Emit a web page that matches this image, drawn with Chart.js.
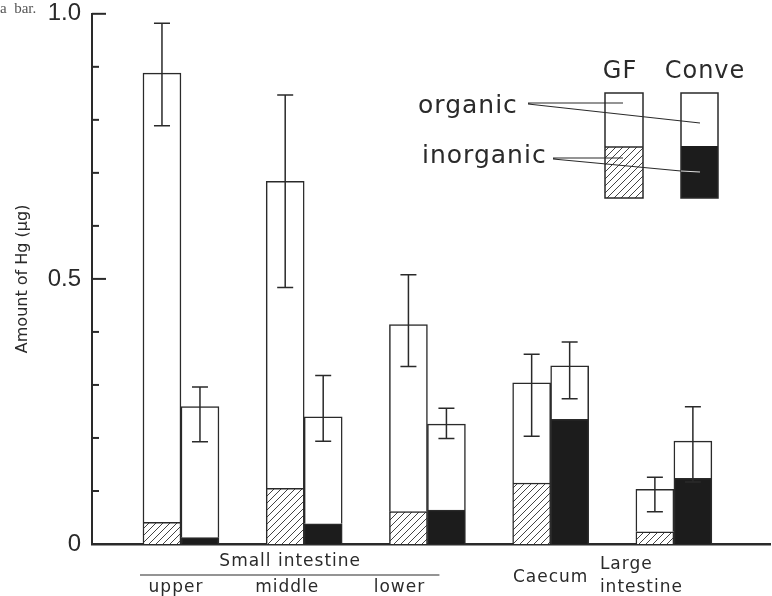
<!DOCTYPE html>
<html>
<head>
<meta charset="utf-8">
<script src="https://cdn.jsdelivr.net/npm/chart.js@4.4.1/dist/chart.umd.min.js"></script>
<style>
    html, body { margin: 0; padding: 0; background: #fff; }
    #wrap { width: 772px; height: 596px; }
</style>
</head>
<body>
<div id="wrap"><canvas id="hg-chart" width="772" height="596"></canvas></div>
<script>
(function() {
    'use strict';

    // Gut sections, placed at x = 1..5
    const sections = ['upper', 'middle', 'lower', 'Caecum', ['Large', 'intestine']];
    const groupLabel = 'Small intestine';

    // Germ-free rats (GF), amount of Hg (ug)
    const gfInorganic = [0.041, 0.105, 0.061, 0.115, 0.023];
    const gfOrganic   = [0.847, 0.579, 0.353, 0.189, 0.080];
    const gfErrLow    = [0.789, 0.484, 0.335, 0.203, 0.061];
    const gfErrHigh   = [0.982, 0.847, 0.508, 0.358, 0.126];

    // Conventional rats
    const convInorganic = [0.012, 0.038, 0.064, 0.235, 0.124];
    const convOrganic   = [0.247, 0.202, 0.162, 0.101, 0.070];
    const convErrLow    = [0.193, 0.194, 0.199, 0.274, 0.117];
    const convErrHigh   = [0.296, 0.318, 0.256, 0.381, 0.259];

    // Y axis ticks
    const yTickValues = [0, 0.5, 1.0];
    const yTickLabels = ['0', '0.5', '1.0'];

    const ink = '#2a2a2a';
    const sans = '"DejaVu Sans", sans-serif';

    const ctx = document.getElementById('hg-chart').getContext('2d');

    // Diagonal hatching for the GF inorganic part
    const makeHatch = function() {
        const c = document.createElement('canvas');
        c.width = 7;
        c.height = 7;
        const g = c.getContext('2d');
        g.fillStyle = '#fff';
        g.fillRect(0, 0, 7, 7);
        g.strokeStyle = '#444';
        g.lineWidth = 1;
        g.beginPath();
        g.moveTo(0, 7); g.lineTo(7, 0);
        g.moveTo(-1, 1); g.lineTo(1, -1);
        g.moveTo(6, 8); g.lineTo(8, 6);
        g.stroke();
        return ctx.createPattern(c, 'repeat');
    };
    const hatch = makeHatch();

    const toPoints = function(arr) {
        return arr.map(function(v, i) { return { x: i + 1, y: v }; });
    };

    const barStyle = {
        borderColor: ink,
        borderWidth: 1.5,
        borderSkipped: 'bottom',
        barThickness: 38
    };

    // Inward tick marks on the y axis
    const yTickMarks = {
        id: 'yTickMarks',
        afterDraw: function(chart) {
            const y = chart.scales.y;
            const left = chart.chartArea.left;
            const c = chart.ctx;
            c.save();
            c.strokeStyle = ink;
            c.lineWidth = 2;
            y.ticks.forEach(function(t) {
                if (t.value === 0) {
                    return;
                }
                const major = yTickValues.some(function(v) { return Math.abs(v - t.value) < 1e-6; });
                const py = y.getPixelForValue(t.value);
                c.beginPath();
                c.moveTo(left, py);
                c.lineTo(left + (major ? 14 : 7), py);
                c.stroke();
            });
            c.restore();
        }
    };

    // Error bars on top of each stacked bar
    const errorBars = {
        id: 'errorBars',
        afterDatasetsDraw: function(chart) {
            const y = chart.scales.y;
            const c = chart.ctx;
            const sets = [[1, gfErrLow, gfErrHigh], [3, convErrLow, convErrHigh]];
            c.save();
            c.strokeStyle = ink;
            c.lineWidth = 1.5;
            sets.forEach(function(s) {
                chart.getDatasetMeta(s[0]).data.forEach(function(bar, i) {
                    const x = bar.x;
                    const y1 = y.getPixelForValue(s[1][i]);
                    const y2 = y.getPixelForValue(s[2][i]);
                    c.beginPath();
                    c.moveTo(x, y1); c.lineTo(x, y2);
                    c.moveTo(x - 8, y1); c.lineTo(x + 8, y1);
                    c.moveTo(x - 8, y2); c.lineTo(x + 8, y2);
                    c.stroke();
                });
            });
            c.restore();
        }
    };

    // Section names under the x axis
    const sectionLabels = {
        id: 'sectionLabels',
        afterDraw: function(chart) {
            const x = chart.scales.x;
            const c = chart.ctx;
            const shift = [-5, -17, -28, 0, -74];
            c.save();
            c.fillStyle = ink;
            c.font = '17px ' + sans;
            c.letterSpacing = '1px';
            c.textBaseline = 'middle';

            c.textAlign = 'center';
            c.fillText(groupLabel, x.getPixelForValue(2) - 14, 562);
            c.strokeStyle = ink;
            c.lineWidth = 1.2;
            c.beginPath();
            c.moveTo(x.getPixelForValue(1) - 41, 575);
            c.lineTo(x.getPixelForValue(3) + 12, 575);
            c.stroke();

            sections.forEach(function(lab, i) {
                const px = x.getPixelForValue(i + 1) + shift[i];
                if (Array.isArray(lab)) {
                    c.textAlign = 'left';
                    c.fillText(lab[0], px, 565);
                    c.fillText(lab[1], px, 588);
                } else if (i > 2) {
                    c.textAlign = 'center';
                    c.fillText(lab, px, 578);
                } else {
                    c.textAlign = 'center';
                    c.fillText(lab, px, 588);
                }
            });

            // scrap of caption text from the scanned page
            c.letterSpacing = '0px';
            c.font = '15px "Liberation Serif", serif';
            c.fillStyle = '#555';
            c.textAlign = 'left';
            c.fillText('a  bar.', 0, 9);
            c.restore();
        }
    };

    // Inset key: GF / Conve boxes with leader lines
    const insetKey = {
        id: 'insetKey',
        afterDraw: function(chart) {
            const c = chart.ctx;
            c.save();
            c.fillStyle = ink;
            c.textBaseline = 'middle';
            c.textAlign = 'center';
            c.font = '24px ' + sans;
            c.letterSpacing = '1px';
            c.fillText('GF', 620, 72);
            c.fillText('Conve', 705, 72);

            c.textAlign = 'left';
            c.textBaseline = 'alphabetic';
            c.font = '25px ' + sans;
            c.fillText('organic', 418, 113);
            c.fillText('inorganic', 422, 163);

            c.lineWidth = 1.5;
            c.strokeStyle = ink;
            // GF box
            c.fillStyle = '#fff';
            c.fillRect(605, 93, 38, 54);
            c.fillStyle = hatch;
            c.fillRect(605, 147, 38, 51);
            c.strokeRect(605, 93, 38, 105);
            c.beginPath(); c.moveTo(605, 147); c.lineTo(643, 147); c.stroke();
            // Conve box
            c.fillStyle = '#1c1c1c';
            c.fillRect(681, 146, 37, 52);
            c.strokeRect(681, 93, 37, 105);

            c.lineWidth = 1.2;
            c.beginPath();
            c.moveTo(528, 103); c.lineTo(623, 103);
            c.moveTo(528, 104); c.lineTo(700, 123);
            c.moveTo(553, 158); c.lineTo(623, 158);
            c.moveTo(553, 159); c.lineTo(681, 171);
            c.stroke();
            c.strokeStyle = '#ddd';
            c.beginPath(); c.moveTo(681, 171); c.lineTo(700, 172); c.stroke();
            c.restore();
        }
    };

    new Chart(ctx, {
        type: 'bar',
        data: {
            datasets: [
                Object.assign({ label: 'GF inorganic', data: toPoints(gfInorganic), stack: 'gf', backgroundColor: hatch }, barStyle),
                Object.assign({ label: 'GF organic', data: toPoints(gfOrganic), stack: 'gf', backgroundColor: '#fff' }, barStyle),
                Object.assign({ label: 'Conv inorganic', data: toPoints(convInorganic), stack: 'conv', backgroundColor: '#1c1c1c' }, barStyle),
                Object.assign({ label: 'Conv organic', data: toPoints(convOrganic), stack: 'conv', backgroundColor: '#fff' }, barStyle)
            ]
        },
        options: {
            responsive: false,
            animation: false,
            devicePixelRatio: 1,
            layout: { padding: { top: 1, right: 2, left: 0, bottom: 0 } },
            plugins: {
                legend: { display: false },
                tooltip: { enabled: false }
            },
            scales: {
                x: {
                    type: 'linear',
                    offset: false,
                    min: 0.278,
                    max: 5.78,
                    grid: { display: false, offset: false },
                    border: { display: true, color: ink, width: 2.5 },
                    ticks: { display: false },
                    afterFit: function(scale) { scale.height = 52; }
                },
                y: {
                    stacked: true,
                    min: 0,
                    max: 1.0,
                    grid: { display: false },
                    border: { display: true, color: ink, width: 2 },
                    ticks: {
                        stepSize: 0.1,
                        autoSkip: false,
                        padding: 3,
                        color: ink,
                        font: { size: 24, lineHeight: 0.9, family: '"Liberation Sans", sans-serif' },
                        callback: function(value) {
                            const k = yTickValues.findIndex(function(v) { return Math.abs(v - value) < 1e-6; });
                            return k >= 0 ? yTickLabels[k] : '';
                        }
                    },
                    title: {
                        display: true,
                        text: 'Amount of Hg (\u03bcg)',
                        color: ink,
                        font: { size: 16, family: sans },
                        padding: { top: 13, bottom: 0 }
                    },
                    afterFit: function(scale) { scale.width = 92; }
                }
            }
        },
        plugins: [errorBars, yTickMarks, sectionLabels, insetKey]
    });
})();
</script>
</body>
</html>
